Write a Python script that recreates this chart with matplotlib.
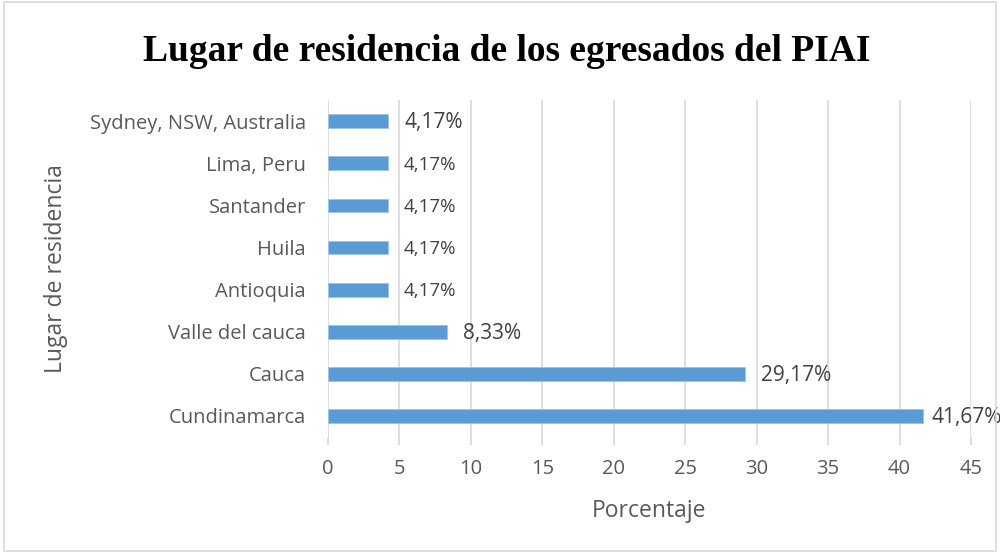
import matplotlib
matplotlib.use("Agg")
import matplotlib.pyplot as plt
from matplotlib.patches import Rectangle

categories = ["Cundinamarca", "Cauca", "Valle del cauca", "Antioquia", "Huila",
              "Santander", "Lima, Peru", "Sydney, NSW, Australia"]
values = [41.67, 29.17, 8.33, 4.17, 4.17, 4.17, 4.17, 4.17]
value_labels = ["41,67%", "29,17%", "8,33%", "4,17%", "4,17%", "4,17%", "4,17%", "4,17%"]
xticks = [0, 5, 10, 15, 20, 25, 30, 35, 40, 45]

title = "Lugar de residencia de los egresados del PIAI"
xlabel = "Porcentaje"
ylabel = "Lugar de residencia"

fig = plt.figure(figsize=(10, 5.53), dpi=100)
fig.patch.set_facecolor("white")
fig.patches.append(Rectangle((0.004, 0.004), 0.992, 0.992, transform=fig.transFigure,
                             fill=False, edgecolor="#d9d9d9", linewidth=1.2))

ax = fig.add_axes([0.328, 0.2098, 0.643, 0.609])
ypos = list(range(len(categories)))
ax.barh(ypos, values, height=0.33, color="#5b9bd5", edgecolor="#9dc3e6", linewidth=0.6, zorder=3)

ax.set_xlim(0, 45)
ax.set_ylim(-0.5, len(categories) - 0.5)
ax.set_xticks(xticks)
ax.set_xticklabels([str(t) for t in xticks])
ax.set_yticks(ypos)
ax.set_yticklabels(categories)

for s in ax.spines.values():
    s.set_visible(False)
ax.grid(axis="x", color="#d9d9d9", linewidth=1.2, zorder=0)
ax.tick_params(axis="x", length=6, color="#d9d9d9", width=1.2, pad=10,
               labelsize=14.5, labelcolor="#595959")
ax.tick_params(axis="y", length=0, pad=16, labelsize=14.5, labelcolor="#595959")
for lab in ax.get_xticklabels() + ax.get_yticklabels():
    lab.set_family("Open Sans")

small = {3, 4, 5, 6}
vmax = max(values)
for i, (v, t) in enumerate(zip(values, value_labels)):
    off = 0.55 if v == vmax else 1.15
    ax.text(v + off, i - 0.03, t, va="center", ha="left",
            fontsize=13.5 if i in small else 15, color="#404040",
            family="Open Sans", zorder=4, clip_on=False)

ax.set_xlabel(xlabel, fontsize=16.5, color="#595959", family="Open Sans", labelpad=14)
ax.set_ylabel(ylabel, fontsize=16.5, color="#595959", family="Open Sans", labelpad=0)
ax.yaxis.set_label_coords(-0.404, 0.5)

fig.text(0.507, 0.907, title, ha="center", va="center", fontsize=27,
         fontweight="bold", family="Liberation Serif", color="black")

fig.savefig("out.png", dpi=100)
